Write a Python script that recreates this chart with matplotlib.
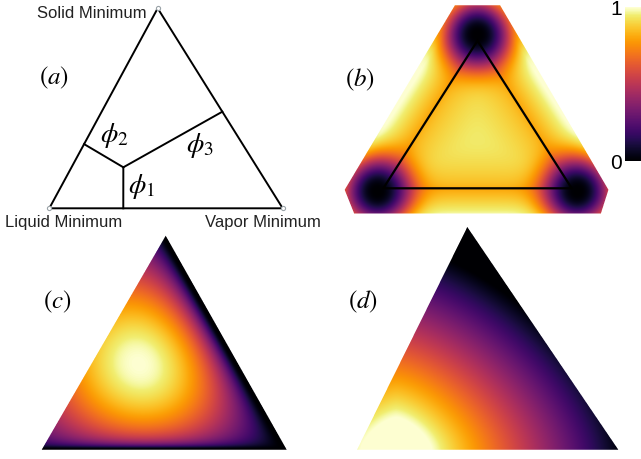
import numpy as np
import matplotlib.pyplot as plt
from matplotlib.cm import ScalarMappable
from matplotlib.colors import ListedColormap, Normalize
from matplotlib.patches import Polygon
from matplotlib.path import Path

plt.rcParams['font.family'] = ['Liberation Sans', 'DejaVu Sans']
plt.rcParams['mathtext.fontset'] = 'stix'

# every composition below is (liquid, vapor, solid)
corner_names = ['Liquid Minimum', 'Vapor Minimum', 'Solid Minimum']

# (a) phase boundaries from the triple point out to the edges
triple_point = [0.573, 0.222, 0.205]
boundary_ends = [
    [0.683, 0.317, 0.000],
    [0.679, 0.000, 0.321],
    [0.000, 0.517, 0.483],
]
phase_names = [r'$\phi_1$', r'$\phi_2$', r'$\phi_3$']

# (b) landscape with minima at the corners
well_centres = [
    [1.04, -0.02, -0.02],
    [-0.02, 1.04, -0.02],
    [-0.02, -0.02, 1.04],
]
well_width = 34.0
well_shape = 2.5
edge_level = 0.80
inner_rise = 0.14
outer_rise = 1.0
domain_b = [
    [0.00, -0.24, 1.24], [-0.24, 0.00, 1.24],
    [-0.19, 1.20, -0.01], [-0.07, 1.24, -0.17],
    [1.24, -0.07, -0.17], [1.21, -0.20, -0.01],
]

# (c) peak sitting near the liquid-solid side
peak_c = [0.35, 0.24, 0.41]
spread_c = 125.0
barrier_c = [0.065, 0.0, 0.022]

# (d) decay away from a point on the liquid-vapor edge
source_d = [0.85, 0.15, 0.0]
stretch_d = 0.91
norm_d = 1.5
inner_d = 32.0
outer_d = 206.0

# triangle corners on the canvas (pixels), same order as compositions
tri_a = [[49.3, 209.3], [282.7, 209.3], [157.7, 9.3]]
tri_b = [[383.3, 189.3], [571.7, 189.3], [477.5, 41.7]]
tri_c = [[41.7, 450.7], [286.7, 450.7], [165.7, 236.7]]
tri_d = [[357.0, 450.7], [618.3, 450.7], [467.3, 228.0]]

# inferno, washed slightly towards white at the very top
cols = plt.get_cmap('inferno')(np.linspace(0, 1, 256))
t = np.clip((np.linspace(0, 1, 256) - 0.95) / 0.05, 0, 1)[:, None]
cols[:, :3] = cols[:, :3] * (1 - 0.5 * t) + 0.5 * t
cmap = ListedColormap(cols)

W, H = 641, 460
SS = 4  # samples per pixel side
fig = plt.figure(figsize=(W / 100, H / 100), dpi=100)
ax = fig.add_axes([0, 0, 1, 1])


def to_xy(tri, comp):
    return np.asarray(comp, float) @ np.asarray(tri, float)


def to_comp(tri, X, Y):
    L, R, T = np.asarray(tri, float)
    inv = np.linalg.inv(np.array([R - L, T - L]).T)
    dx, dy = X - L[0], Y - L[1]
    lr = inv[0, 0] * dx + inv[0, 1] * dy
    lt = inv[1, 0] * dx + inv[1, 1] * dy
    return np.stack([1 - lr - lt, lr, lt])


def pixel_grid(box):
    x0, x1, y0, y1 = box
    xs = x0 + (np.arange((x1 - x0) * SS) + 0.5) / SS
    ys = y0 + (np.arange((y1 - y0) * SS) + 0.5) / SS
    return np.meshgrid(xs, ys)


def paint(field, X, Y, box, outline):
    # colour the samples, lay them on white, then average down to pixels
    pts = np.column_stack([X.ravel(), Y.ravel()])
    keep = Path(np.asarray(outline)).contains_points(pts).reshape(X.shape)
    rgb = cmap(np.clip(field, 0, 1))[..., :3]
    rgb = np.where(keep[..., None], rgb, 1.0)
    ny, nx = X.shape[0] // SS, X.shape[1] // SS
    rgb = rgb.reshape(ny, SS, nx, SS, 3).mean(axis=(1, 3))
    x0, x1, y0, y1 = box
    ax.imshow(rgb, origin='upper', extent=(x0, x1, y1, y0),
              interpolation='nearest', aspect='auto', zorder=1)


# ---- (a) schematic phase diagram
ax.add_patch(Polygon(tri_a, closed=True, fill=False, edgecolor='black',
                     lw=1.4, joinstyle='miter', zorder=2))
tp = to_xy(tri_a, triple_point)
for end in boundary_ends:
    e = to_xy(tri_a, end)
    ax.plot([tp[0], e[0]], [tp[1], e[1]], color='black', lw=1.4, zorder=2)
va = np.asarray(tri_a)
ax.plot(va[:, 0], va[:, 1], 'o', ms=3, mfc='white', mec='#9aa3a8',
        mew=0.8, ls='none', zorder=3)

ax.text(147, 13, corner_names[2], ha='right', va='center', fontsize=12,
        color='#222222')
ax.text(5, 223, corner_names[0], ha='left', va='center', fontsize=12,
        color='#222222')
ax.text(205, 223, corner_names[1], ha='left', va='center', fontsize=12,
        color='#222222')

for name, (x, y) in zip(phase_names, [(142, 187), (114, 136), (200, 146)]):
    ax.text(x, y, name, ha='center', va='center', fontsize=20)

# ---- (b) landscape on the extended domain
box_b = (338, 612, 2, 218)
X, Y = pixel_grid(box_b)
lam = to_comp(tri_b, X, Y)
tau = 0.05
m = -tau * np.log(np.exp(-lam / tau).sum(axis=0))
m_mid = -tau * np.log(3 * np.exp(-1 / (3 * tau)))
rise = inner_rise * np.sqrt(np.clip(m, 0, None) / m_mid)
base = np.where(m > 0, edge_level + rise, edge_level - outer_rise * m)
base = np.clip(base, 0, 1)
wells = np.ones_like(X)
for c in well_centres:
    cx, cy = to_xy(tri_b, c)
    r = np.hypot(X - cx, Y - cy)
    wells *= 1 - np.exp(-(r / well_width) ** well_shape)
paint(base * wells, X, Y, box_b, to_xy(tri_b, domain_b))
ax.add_patch(Polygon(tri_b, closed=True, fill=False, edgecolor='black',
                     lw=1.6, joinstyle='miter', zorder=2))

cax = fig.add_axes([625 / W, 1 - 162 / H, 16 / W, 154 / H])
cb = fig.colorbar(ScalarMappable(Normalize(0, 1), cmap), cax=cax,
                  ticks=[0, 1])
cb.outline.set_visible(False)
cax.yaxis.set_ticks_position('left')
cax.set_yticklabels(['0', '1'])
cax.tick_params(length=0, labelsize=15, pad=2)

# ---- (c)
box_c = (38, 290, 232, 454)
X, Y = pixel_grid(box_c)
lam = to_comp(tri_c, X, Y)
inside = np.all(lam > -1e-3, axis=0)
safe = np.clip(lam, 0.005, None)
px, py = to_xy(tri_c, peak_c)
g = -(np.hypot(X - px, Y - py) / spread_c) ** 2
for k, l in zip(barrier_c, safe):
    g -= k / l
g -= g[inside].max()
paint(np.exp(g), X, Y, box_c, tri_c)

# ---- (d)
box_d = (352, 622, 224, 454)
X, Y = pixel_grid(box_d)
sx, sy = to_xy(tri_d, source_d)
dist = ((stretch_d * np.abs(X - sx)) ** norm_d
        + np.abs(Y - sy) ** norm_d) ** (1 / norm_d)
paint((outer_d - dist) / (outer_d - inner_d), X, Y, box_d, tri_d)

# panel tags
for tag, (x, y) in zip('abcd', [(54, 78), (360, 80), (57, 302), (363, 302)]):
    ax.text(x, y, r'$(%s)$' % tag, ha='center', va='center', fontsize=18)

ax.set_xlim(0, W)
ax.set_ylim(H, 0)
ax.axis('off')
fig.savefig('out.png', dpi=100)
